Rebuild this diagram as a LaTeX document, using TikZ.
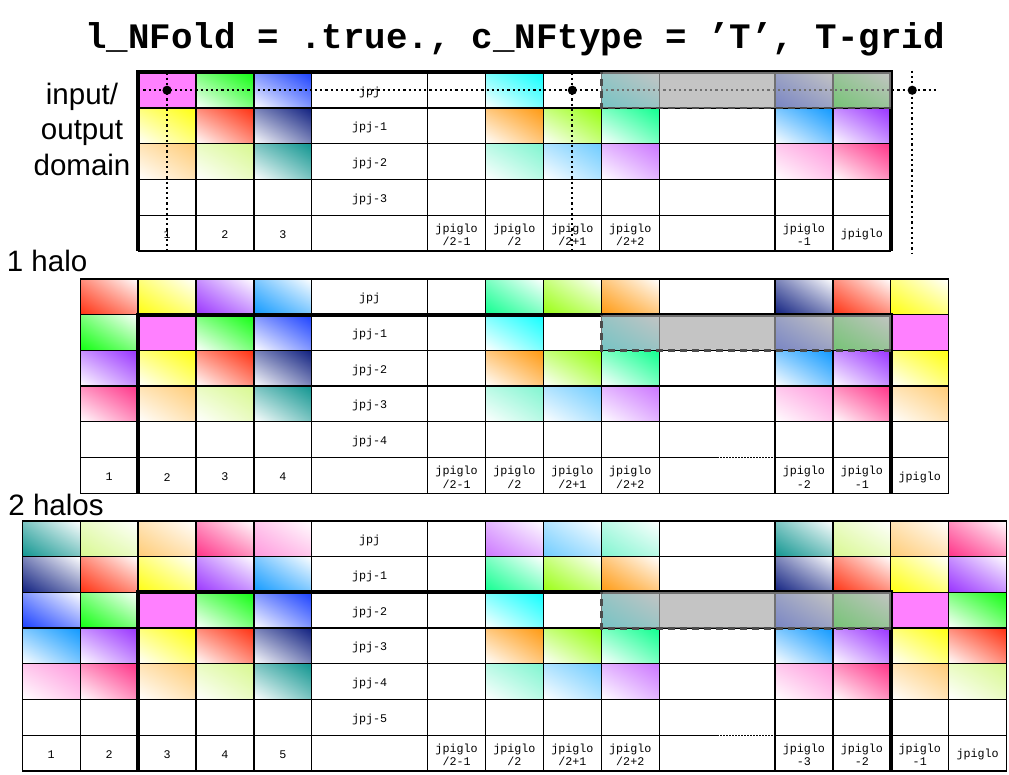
\documentclass[tikz,border=0pt]{standalone}
\usepackage{fontspec}
\setmainfont{Liberation Sans}
\setmonofont{Liberation Mono}
\usetikzlibrary{shadings}

\definecolor{cmag}{HTML}{FF80FF}
\definecolor{cgrn}{HTML}{10FF10}
\definecolor{cblu}{HTML}{1A40FF}
\definecolor{ccya}{HTML}{10FFFF}
\definecolor{cyel}{HTML}{FFFF10}
\definecolor{cred}{HTML}{FF3010}
\definecolor{cnav}{HTML}{102080}
\definecolor{cora}{HTML}{FF9910}
\definecolor{clim}{HTML}{99FF10}
\definecolor{cspr}{HTML}{10FF90}
\definecolor{cdod}{HTML}{1099FF}
\definecolor{cpur}{HTML}{9933FF}
\definecolor{cpea}{HTML}{FFCC77}
\definecolor{cpal}{HTML}{D8F890}
\definecolor{ctea}{HTML}{109590}
\definecolor{caqu}{HTML}{80F5D0}
\definecolor{csky}{HTML}{70CCFF}
\definecolor{corc}{HTML}{CC77FF}
\definecolor{cpnk}{HTML}{FF99DD}
\definecolor{chpk}{HTML}{FF3388}

\begin{document}
\begin{tikzpicture}[x=57.9pt, y=-35.7pt,
  cellN/.style={upper right=#1, lower left=white, upper left=#1!55!white, lower right=#1!55!white},
  cellF/.style={upper right=white, lower left=#1, upper left=#1!55!white, lower right=#1!55!white},
  grid/.style={line width=1.3pt},
  rim/.style={line width=4pt, line join=miter},
  halfdot/.style={line width=1.2pt, dash pattern=on 1.5pt off 1.5pt},
  dotline/.style={line width=2.2pt, dash pattern=on 2.2pt off 3pt},
  veil/.style={fill=black!34, opacity=0.67},
  rimdash/.style={black!70, line width=2.8pt, dash pattern=on 7pt off 5pt},
  lbl/.style={font=\ttfamily\fontsize{11.7}{13.5}\selectfont, align=center, inner sep=0pt},
  halo/.style={font=\fontsize{29.5}{35.5}\selectfont, inner sep=0pt}]
\useasboundingbox[fill=white] (-22.3pt,0pt) rectangle (986.7pt,-775pt);

\node[font=\ttfamily\bfseries\fontsize{35.8}{40}\selectfont, anchor=base] (title) at (492.7pt,-48.7pt) {l\_NFold = .true., c\_NFtype = ’T’, T-grid};
\node[halo, align=center, anchor=base] (inout) at (59.7pt,-175.3pt) {input/\\output\\domain};
\node[halo, anchor=base west] (onehalo) at (-15.6pt,-271.7pt) {1 halo};
\node[halo, anchor=base west] (twohalo) at (-14pt,-515pt) {2 halos};

% input/output domain
\begin{scope}[yshift=-72.4pt]
\foreach \cl/\rw/\cc in {3/0/cgrn,4/0/cblu,8/0/ccya,
  2/1/cyel,3/1/cred,4/1/cnav,8/1/cora,9/1/clim,10/1/cspr,13/1/cdod,14/1/cpur,
  2/2/cpea,3/2/cpal,4/2/ctea,8/2/caqu,9/2/csky,10/2/corc,13/2/cpnk,14/2/chpk}
  \shade[cellN=\cc] (\cl,\rw) rectangle ++(1,1);
\foreach \cl/\rw/\cc in {10/0/ccya,13/0/cblu,14/0/cgrn}
  \shade[cellF=\cc] (\cl,\rw) rectangle ++(1,1);
\fill[cmag] (2,0) rectangle ++(1,1);
\foreach \cl in {2,3,4,5,7,8,9,10,11,13,14,15} \draw[grid] (\cl,0) -- (\cl,5);
\foreach \rw in {0,...,5} \draw[grid] (2,\rw) -- (15,\rw);
\draw[rim] (2,5) -- (2,0) -- (15,0) -- (15,5);
\coordinate (pa) at (2.5,0.5);
\coordinate (pb) at (9.5,0.5);
\coordinate (pc) at (15.37,0.5);
\draw[dotline] (2,0.5) -- (15.79,0.5);
\draw[dotline] (2.5,0) -- (2.5,5.06);
\draw[dotline] (9.5,0) -- (9.5,5.06);
\draw[dotline] (15.37,-0.05) -- (15.37,5.08);
\foreach \p in {pa,pb,pc} \fill (\p) circle (4.6pt);
\fill[veil] (10,0) rectangle (15,1);
\draw[rimdash] (15,1) -- (10,1) -- (10,0);
\foreach \rw/\txt in {0/jpj,1/jpj-1,2/jpj-2,3/jpj-3}
  \node[lbl] (g1r\rw) at (6,\rw+0.55) {\txt};
\foreach \cl/\txt in {2/1,3/2,4/3,7/{jpiglo\\/2-1},8/{jpiglo\\/2},9/{jpiglo\\/2+1},
  10/{jpiglo\\/2+2},13/{jpiglo\\-1},14/jpiglo}
  \node[lbl] (g1c\cl) at (\cl+0.5,4.55) {\txt};
\end{scope}

% 1 halo
\begin{scope}[yshift=-279pt]
\foreach \cl/\rw/\cc in {1/0/cred,2/0/cyel,3/0/cpur,4/0/cdod,8/0/cspr,9/0/clim,10/0/cora,
  13/0/cnav,14/0/cred,15/0/cyel,1/1/cgrn,10/1/ccya,13/1/cblu,14/1/cgrn}
  \shade[cellF=\cc] (\cl,\rw) rectangle ++(1,1);
\foreach \cl/\rw/\cc in {3/1/cgrn,4/1/cblu,8/1/ccya,
  1/2/cpur,2/2/cyel,3/2/cred,4/2/cnav,8/2/cora,9/2/clim,10/2/cspr,13/2/cdod,14/2/cpur,15/2/cyel,
  1/3/chpk,2/3/cpea,3/3/cpal,4/3/ctea,8/3/caqu,9/3/csky,10/3/corc,13/3/cpnk,14/3/chpk,15/3/cpea}
  \shade[cellN=\cc] (\cl,\rw) rectangle ++(1,1);
\fill[cmag] (2,1) rectangle ++(1,1) (15,1) rectangle ++(1,1);
\foreach \cl in {1,2,3,4,5,7,8,9,10,11,13,14,15,16} \draw[grid] (\cl,0) -- (\cl,6);
\foreach \rw in {0,1,2,3,4,6} \draw[grid] (1,\rw) -- (16,\rw);
\draw[grid] (1,5) -- (12,5) (13,5) -- (16,5);
\draw[halfdot] (12,5) -- (13,5);
\draw[rim] (2,6) -- (2,1) -- (15,1) -- (15,6);
\fill[veil] (10,1) rectangle (15,2);
\draw[rimdash] (15,2) -- (10,2) -- (10,1);
\foreach \rw/\txt in {0/jpj,1/jpj-1,2/jpj-2,3/jpj-3,4/jpj-4}
  \node[lbl] (g2r\rw) at (6,\rw+0.55) {\txt};
\foreach \cl/\txt in {1/1,2/2,3/3,4/4,7/{jpiglo\\/2-1},8/{jpiglo\\/2},9/{jpiglo\\/2+1},
  10/{jpiglo\\/2+2},13/{jpiglo\\-2},14/{jpiglo\\-1},15/jpiglo}
  \node[lbl] (g2c\cl) at (\cl+0.5,5.55) {\txt};
\end{scope}

% 2 halos
\begin{scope}[yshift=-521pt]
\foreach \cl/\rw/\cc in {0/0/ctea,1/0/cpal,2/0/cpea,3/0/chpk,4/0/cpnk,8/0/corc,9/0/csky,10/0/caqu,
  13/0/ctea,14/0/cpal,15/0/cpea,16/0/chpk,
  0/1/cnav,1/1/cred,2/1/cyel,3/1/cpur,4/1/cdod,8/1/cspr,9/1/clim,10/1/cora,
  13/1/cnav,14/1/cred,15/1/cyel,16/1/cpur,
  0/2/cblu,1/2/cgrn,10/2/ccya,13/2/cblu,14/2/cgrn}
  \shade[cellF=\cc] (\cl,\rw) rectangle ++(1,1);
\foreach \cl/\rw/\cc in {3/2/cgrn,4/2/cblu,8/2/ccya,16/2/cgrn,
  0/3/cdod,1/3/cpur,2/3/cyel,3/3/cred,4/3/cnav,8/3/cora,9/3/clim,10/3/cspr,
  13/3/cdod,14/3/cpur,15/3/cyel,16/3/cred,
  0/4/cpnk,1/4/chpk,2/4/cpea,3/4/cpal,4/4/ctea,8/4/caqu,9/4/csky,10/4/corc,
  13/4/cpnk,14/4/chpk,15/4/cpea,16/4/cpal}
  \shade[cellN=\cc] (\cl,\rw) rectangle ++(1,1);
\fill[cmag] (2,2) rectangle ++(1,1) (15,2) rectangle ++(1,1);
\foreach \cl in {0,1,2,3,4,5,7,8,9,10,11,13,14,15,16,17} \draw[grid] (\cl,0) -- (\cl,7);
\foreach \rw in {0,1,2,3,4,5,7} \draw[grid] (0,\rw) -- (17,\rw);
\draw[grid] (0,6) -- (12,6) (13,6) -- (17,6);
\draw[halfdot] (12,6) -- (13,6);
\draw[rim] (2,7) -- (2,2) -- (15,2) -- (15,7);
\fill[veil] (10,2) rectangle (15,3);
\draw[rimdash] (15,3) -- (10,3) -- (10,2);
\foreach \rw/\txt in {0/jpj,1/jpj-1,2/jpj-2,3/jpj-3,4/jpj-4,5/jpj-5}
  \node[lbl] (g3r\rw) at (6,\rw+0.55) {\txt};
\foreach \cl/\txt in {0/1,1/2,2/3,3/4,4/5,7/{jpiglo\\/2-1},8/{jpiglo\\/2},9/{jpiglo\\/2+1},
  10/{jpiglo\\/2+2},13/{jpiglo\\-3},14/{jpiglo\\-2},15/{jpiglo\\-1},16/jpiglo}
  \node[lbl] (g3c\cl) at (\cl+0.5,6.55) {\txt};
\end{scope}
\end{tikzpicture}
\end{document}
